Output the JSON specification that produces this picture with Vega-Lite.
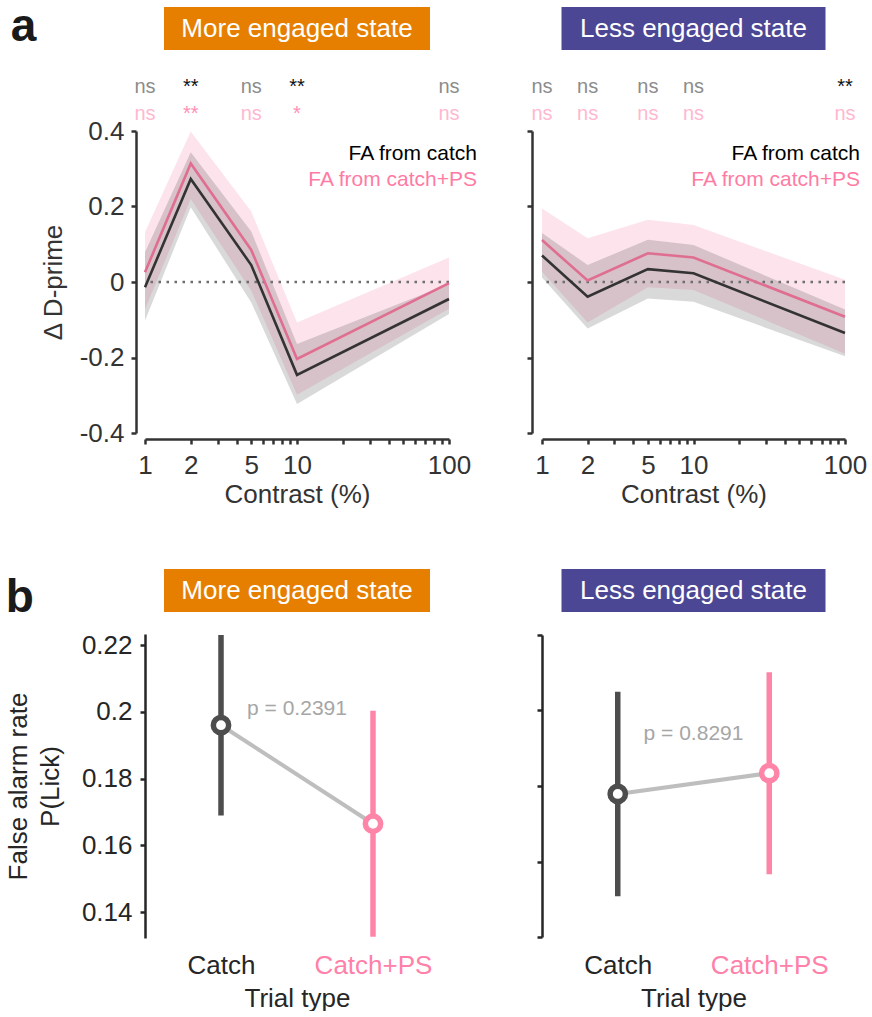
{
  "$schema": "https://vega.github.io/schema/vega-lite/v6.json",
  "background": "white",
  "padding": {"left": 5, "top": 4, "right": 5, "bottom": 0},
  "config": {
    "font": "Liberation Sans",
    "view": {"stroke": null},
    "axis": {
      "grid": false, "domainWidth": 2.5, "tickWidth": 2.5, "tickSize": 5,
      "labelFontSize": 26, "titleFontSize": 26, "titleFontWeight": "normal",
      "labelFont": "Liberation Sans", "titleFont": "Liberation Sans",
      "domainColor": "#333333", "tickColor": "#333333", "labelColor": "#333333", "titleColor": "#333333",
      "labelFlush": false, "labelOverlap": false, "domainCap": "butt"
    }
  },
  "datasets": {
    "dprime": [
      {"state": "More engaged", "fa": "catch", "contrast": 1, "mean": -0.014, "lo": -0.102, "hi": 0.079},
      {"state": "More engaged", "fa": "catch", "contrast": 2, "mean": 0.273, "lo": 0.198, "hi": 0.344},
      {"state": "More engaged", "fa": "catch", "contrast": 5, "mean": 0.045, "lo": -0.054, "hi": 0.134},
      {"state": "More engaged", "fa": "catch", "contrast": 10, "mean": -0.246, "lo": -0.323, "hi": -0.164},
      {"state": "More engaged", "fa": "catch", "contrast": 100, "mean": -0.045, "lo": -0.085, "hi": -0.005},
      {"state": "More engaged", "fa": "catch+PS", "contrast": 1, "mean": 0.026, "lo": -0.072, "hi": 0.132},
      {"state": "More engaged", "fa": "catch+PS", "contrast": 2, "mean": 0.314, "lo": 0.220, "hi": 0.399},
      {"state": "More engaged", "fa": "catch+PS", "contrast": 5, "mean": 0.085, "lo": -0.023, "hi": 0.187},
      {"state": "More engaged", "fa": "catch+PS", "contrast": 10, "mean": -0.204, "lo": -0.299, "hi": -0.107},
      {"state": "More engaged", "fa": "catch+PS", "contrast": 100, "mean": -0.003, "lo": -0.071, "hi": 0.065},
      {"state": "Less engaged", "fa": "catch", "contrast": 1, "mean": 0.070, "lo": 0.012, "hi": 0.130},
      {"state": "Less engaged", "fa": "catch", "contrast": 2, "mean": -0.039, "lo": -0.123, "hi": 0.045},
      {"state": "Less engaged", "fa": "catch", "contrast": 5, "mean": 0.034, "lo": -0.044, "hi": 0.112},
      {"state": "Less engaged", "fa": "catch", "contrast": 10, "mean": 0.023, "lo": -0.052, "hi": 0.098},
      {"state": "Less engaged", "fa": "catch", "contrast": 100, "mean": -0.135, "lo": -0.197, "hi": -0.073},
      {"state": "Less engaged", "fa": "catch+PS", "contrast": 1, "mean": 0.111, "lo": 0.027, "hi": 0.195},
      {"state": "Less engaged", "fa": "catch+PS", "contrast": 2, "mean": 0.004, "lo": -0.107, "hi": 0.116},
      {"state": "Less engaged", "fa": "catch+PS", "contrast": 5, "mean": 0.076, "lo": -0.014, "hi": 0.165},
      {"state": "Less engaged", "fa": "catch+PS", "contrast": 10, "mean": 0.065, "lo": -0.021, "hi": 0.151},
      {"state": "Less engaged", "fa": "catch+PS", "contrast": 100, "mean": -0.092, "lo": -0.190, "hi": 0.006}
    ],
    "sig": [
      {"state": "More engaged", "fa": "catch", "contrast": 1, "label": "ns"},
      {"state": "More engaged", "fa": "catch", "contrast": 2, "label": "**"},
      {"state": "More engaged", "fa": "catch", "contrast": 5, "label": "ns"},
      {"state": "More engaged", "fa": "catch", "contrast": 10, "label": "**"},
      {"state": "More engaged", "fa": "catch", "contrast": 100, "label": "ns"},
      {"state": "More engaged", "fa": "catch+PS", "contrast": 1, "label": "ns"},
      {"state": "More engaged", "fa": "catch+PS", "contrast": 2, "label": "**"},
      {"state": "More engaged", "fa": "catch+PS", "contrast": 5, "label": "ns"},
      {"state": "More engaged", "fa": "catch+PS", "contrast": 10, "label": "*"},
      {"state": "More engaged", "fa": "catch+PS", "contrast": 100, "label": "ns"},
      {"state": "Less engaged", "fa": "catch", "contrast": 1, "label": "ns"},
      {"state": "Less engaged", "fa": "catch", "contrast": 2, "label": "ns"},
      {"state": "Less engaged", "fa": "catch", "contrast": 5, "label": "ns"},
      {"state": "Less engaged", "fa": "catch", "contrast": 10, "label": "ns"},
      {"state": "Less engaged", "fa": "catch", "contrast": 100, "label": "**"},
      {"state": "Less engaged", "fa": "catch+PS", "contrast": 1, "label": "ns"},
      {"state": "Less engaged", "fa": "catch+PS", "contrast": 2, "label": "ns"},
      {"state": "Less engaged", "fa": "catch+PS", "contrast": 5, "label": "ns"},
      {"state": "Less engaged", "fa": "catch+PS", "contrast": 10, "label": "ns"},
      {"state": "Less engaged", "fa": "catch+PS", "contrast": 100, "label": "ns"}
    ],
    "fa": [
      {"state": "More engaged", "trial": "Catch", "pos": 1, "mean": 0.196, "lo": 0.169, "hi": 0.223},
      {"state": "More engaged", "trial": "Catch+PS", "pos": 2, "mean": 0.1665, "lo": 0.1327, "hi": 0.2003},
      {"state": "Less engaged", "trial": "Catch", "pos": 1, "mean": 0.1779, "lo": 0.1508, "hi": 0.205},
      {"state": "Less engaged", "trial": "Catch+PS", "pos": 2, "mean": 0.1834, "lo": 0.1566, "hi": 0.2101}
    ],
    "pvals": [
      {"state": "More engaged", "label": "p = 0.2391"},
      {"state": "Less engaged", "label": "p = 0.8291"}
    ]
  },
  "bounds": "flush",
  "spacing": 562,
  "vconcat": [
    {
      "bounds": "flush",
      "spacing": 397,
      "hconcat": [
        {
          "bounds": "flush", "center": true, "spacing": 6.5,
          "vconcat": [
            {
              "width": 266, "height": 43,
              "title": {"text": "a", "orient": "left", "angle": 0, "anchor": "middle", "frame": "group", "offset": 102, "fontSize": 46, "fontWeight": "bold", "baseline": "alphabetic", "align": "right", "dy": 12.5, "color": "#1a1a1a", "font": "Liberation Sans"},
              "view": {"fill": "#E67F00", "stroke": null},
              "data": {"values": [{"state": "More engaged state"}]},
              "mark": {"type": "text", "color": "white", "fontSize": 26, "baseline": "middle", "align": "center"},
              "encoding": {"text": {"field": "state"}}
            },
            {
              "width": 304, "height": 68,
              "data": {"name": "sig"},
              "transform": [{"filter": "datum.state == 'More engaged'"}],
              "mark": {"type": "text", "fontSize": 20, "baseline": "middle", "align": "center"},
              "encoding": {
                "x": {"field": "contrast", "type": "quantitative", "scale": {"type": "log", "domain": [1, 100], "nice": false}, "axis": null},
                "y": {"field": "fa", "type": "nominal", "scale": {"type": "point", "domain": ["catch", "catch+PS"], "padding": 0.783, "align": 0.735}, "axis": null},
                "text": {"field": "label"},
                "color": {"condition": [
                  {"test": "datum.fa == 'catch' && datum.label == 'ns'", "value": "#8C8C8C"},
                  {"test": "datum.fa == 'catch'", "value": "#111111"},
                  {"test": "datum.label == 'ns'", "value": "#FFB8D0"}
                ], "value": "#FF8FB6"}
              }
            },
            {
              "width": 304, "height": 302,
              "layer": [
                {
                  "data": {"name": "dprime"},
                  "transform": [{"filter": "datum.state == 'More engaged' && datum.fa == 'catch+PS'"}],
                  "mark": {"type": "area", "color": "#FDE3EC", "opacity": 1},
                  "encoding": {
                    "x": {"field": "contrast", "type": "quantitative", "scale": {"type": "log", "domain": [1, 100], "nice": false}, "title": "Contrast (%)",
                      "axis": {"values": [1, 2, 3, 4, 5, 6, 7, 8, 9, 10, 20, 30, 40, 50, 60, 70, 80, 90, 100], "labelExpr": "indexof([1, 2, 5, 10, 100], datum.value) >= 0 ? datum.value + '' : ''", "offset": 6, "labelPadding": 8, "titlePadding": 3}},
                    "y": {"field": "lo", "type": "quantitative", "scale": {"domain": [-0.4, 0.4], "nice": false, "zero": false}, "title": "Δ D-prime",
                      "axis": {"values": [-0.4, -0.2, 0, 0.2, 0.4], "offset": 9, "labelExpr": "'' + datum.value", "labelPadding": 7, "titlePadding": 13}},
                    "y2": {"field": "hi"}
                  }
                },
                {
                  "data": {"name": "dprime"},
                  "transform": [{"filter": "datum.state == 'More engaged' && datum.fa == 'catch'"}],
                  "mark": {"type": "area", "color": "#404040", "opacity": 0.2},
                  "encoding": {
                    "x": {"field": "contrast", "type": "quantitative", "title": "Contrast (%)"},
                    "y": {"field": "lo", "type": "quantitative", "title": "Δ D-prime"},
                    "y2": {"field": "hi"}
                  }
                },
                {
                  "data": {"values": [{}]},
                  "mark": {"type": "rule", "color": "#6E6E6E", "strokeDash": [2.5, 5.5], "strokeWidth": 2.5},
                  "encoding": {"y": {"datum": 0, "type": "quantitative"}}
                },
                {
                  "data": {"name": "dprime"},
                  "transform": [{"filter": "datum.state == 'More engaged' && datum.fa == 'catch'"}],
                  "mark": {"type": "line", "color": "#333333", "strokeWidth": 2.6},
                  "encoding": {
                    "x": {"field": "contrast", "type": "quantitative", "title": "Contrast (%)"},
                    "y": {"field": "mean", "type": "quantitative", "title": "Δ D-prime"}
                  }
                },
                {
                  "data": {"name": "dprime"},
                  "transform": [{"filter": "datum.state == 'More engaged' && datum.fa == 'catch+PS'"}],
                  "mark": {"type": "line", "color": "#DF6E91", "strokeWidth": 2.6},
                  "encoding": {
                    "x": {"field": "contrast", "type": "quantitative", "title": "Contrast (%)"},
                    "y": {"field": "mean", "type": "quantitative", "title": "Δ D-prime"}
                  }
                },
                {
                  "data": {"values": [{"label": "FA from catch"}]},
                  "mark": {"type": "text", "align": "right", "baseline": "alphabetic", "fontSize": 21, "color": "#000000", "dx": 28},
                  "encoding": {"x": {"datum": 100, "type": "quantitative"}, "y": {"datum": 0.322, "type": "quantitative"}, "text": {"field": "label"}}
                },
                {
                  "data": {"values": [{"label": "FA from catch+PS"}]},
                  "mark": {"type": "text", "align": "right", "baseline": "alphabetic", "fontSize": 21, "color": "#FF7BA4", "dx": 28},
                  "encoding": {"x": {"datum": 100, "type": "quantitative"}, "y": {"datum": 0.255, "type": "quantitative"}, "text": {"field": "label"}}
                }
              ]
            }
          ]
        },
        {
          "bounds": "flush", "center": true, "spacing": 6.5,
          "vconcat": [
            {
              "width": 264, "height": 43,
              "view": {"fill": "#4B4794", "stroke": null},
              "data": {"values": [{"state": "Less engaged state"}]},
              "mark": {"type": "text", "color": "white", "fontSize": 26, "baseline": "middle", "align": "center"},
              "encoding": {"text": {"field": "state"}}
            },
            {
              "width": 303, "height": 68,
              "data": {"name": "sig"},
              "transform": [{"filter": "datum.state == 'Less engaged'"}],
              "mark": {"type": "text", "fontSize": 20, "baseline": "middle", "align": "center"},
              "encoding": {
                "x": {"field": "contrast", "type": "quantitative", "scale": {"type": "log", "domain": [1, 100], "nice": false}, "axis": null},
                "y": {"field": "fa", "type": "nominal", "scale": {"type": "point", "domain": ["catch", "catch+PS"], "padding": 0.783, "align": 0.735}, "axis": null},
                "text": {"field": "label"},
                "color": {"condition": [
                  {"test": "datum.fa == 'catch' && datum.label == 'ns'", "value": "#8C8C8C"},
                  {"test": "datum.fa == 'catch'", "value": "#111111"},
                  {"test": "datum.label == 'ns'", "value": "#FFB8D0"}
                ], "value": "#FF8FB6"}
              }
            },
            {
              "width": 303, "height": 302,
              "layer": [
                {
                  "data": {"name": "dprime"},
                  "transform": [{"filter": "datum.state == 'Less engaged' && datum.fa == 'catch+PS'"}],
                  "mark": {"type": "area", "color": "#FDE3EC", "opacity": 1},
                  "encoding": {
                    "x": {"field": "contrast", "type": "quantitative", "scale": {"type": "log", "domain": [1, 100], "nice": false}, "title": "Contrast (%)",
                      "axis": {"values": [1, 2, 3, 4, 5, 6, 7, 8, 9, 10, 20, 30, 40, 50, 60, 70, 80, 90, 100], "labelExpr": "indexof([1, 2, 5, 10, 100], datum.value) >= 0 ? datum.value + '' : ''", "offset": 6, "labelPadding": 8, "titlePadding": 3}},
                    "y": {"field": "lo", "type": "quantitative", "scale": {"domain": [-0.4, 0.4], "nice": false, "zero": false}, "title": null,
                      "axis": {"values": [-0.4, -0.2, 0, 0.2, 0.4], "offset": 10, "labels": false}},
                    "y2": {"field": "hi"}
                  }
                },
                {
                  "data": {"name": "dprime"},
                  "transform": [{"filter": "datum.state == 'Less engaged' && datum.fa == 'catch'"}],
                  "mark": {"type": "area", "color": "#404040", "opacity": 0.2},
                  "encoding": {
                    "x": {"field": "contrast", "type": "quantitative", "title": "Contrast (%)"},
                    "y": {"field": "lo", "type": "quantitative", "title": null},
                    "y2": {"field": "hi"}
                  }
                },
                {
                  "data": {"values": [{}]},
                  "mark": {"type": "rule", "color": "#6E6E6E", "strokeDash": [2.5, 5.5], "strokeWidth": 2.5},
                  "encoding": {"y": {"datum": 0, "type": "quantitative"}}
                },
                {
                  "data": {"name": "dprime"},
                  "transform": [{"filter": "datum.state == 'Less engaged' && datum.fa == 'catch'"}],
                  "mark": {"type": "line", "color": "#333333", "strokeWidth": 2.6},
                  "encoding": {
                    "x": {"field": "contrast", "type": "quantitative", "title": "Contrast (%)"},
                    "y": {"field": "mean", "type": "quantitative", "title": null}
                  }
                },
                {
                  "data": {"name": "dprime"},
                  "transform": [{"filter": "datum.state == 'Less engaged' && datum.fa == 'catch+PS'"}],
                  "mark": {"type": "line", "color": "#DF6E91", "strokeWidth": 2.6},
                  "encoding": {
                    "x": {"field": "contrast", "type": "quantitative", "title": "Contrast (%)"},
                    "y": {"field": "mean", "type": "quantitative", "title": null}
                  }
                },
                {
                  "data": {"values": [{"label": "FA from catch"}]},
                  "mark": {"type": "text", "align": "right", "baseline": "alphabetic", "fontSize": 21, "color": "#000000", "dx": 15},
                  "encoding": {"x": {"datum": 100, "type": "quantitative"}, "y": {"datum": 0.322, "type": "quantitative"}, "text": {"field": "label"}}
                },
                {
                  "data": {"values": [{"label": "FA from catch+PS"}]},
                  "mark": {"type": "text", "align": "right", "baseline": "alphabetic", "fontSize": 21, "color": "#FF7BA4", "dx": 15},
                  "encoding": {"x": {"datum": 100, "type": "quantitative"}, "y": {"datum": 0.255, "type": "quantitative"}, "text": {"field": "label"}}
                }
              ]
            }
          ]
        }
      ]
    },
    {
      "bounds": "flush",
      "spacing": 397,
      "hconcat": [
        {
          "bounds": "flush", "center": true, "spacing": 22,
          "vconcat": [
            {
              "width": 266, "height": 43,
              "title": {"text": "b", "orient": "left", "angle": 0, "anchor": "middle", "frame": "group", "offset": 102, "fontSize": 46, "fontWeight": "bold", "baseline": "alphabetic", "align": "right", "dy": 21.5, "color": "#1a1a1a", "font": "Liberation Sans"},
              "view": {"fill": "#E67F00", "stroke": null},
              "data": {"values": [{"state": "More engaged state"}]},
              "mark": {"type": "text", "color": "white", "fontSize": 26, "baseline": "middle", "align": "center"},
              "encoding": {"text": {"field": "state"}}
            },
            {
              "width": 304, "height": 304,
              "layer": [
                {
                  "data": {"name": "fa"},
                  "transform": [{"filter": "datum.state == 'More engaged'"}],
                  "mark": {"type": "rule", "strokeWidth": 5.5, "clip": true},
                  "encoding": {
                    "x": {"field": "pos", "type": "quantitative", "scale": {"domain": [0.5, 2.5], "nice": false, "zero": false}, "title": "Trial type",
                      "axis": {"values": [1, 2], "labelExpr": "datum.value == 1 ? 'Catch' : 'Catch+PS'", "ticks": false, "domain": false, "labelPadding": 14, "titlePadding": 7,
                        "labelColor": {"condition": {"test": "datum.value == 1", "value": "#262626"}, "value": "#FF80A8"}, "titleColor": "#262626"}},
                    "y": {"field": "lo", "type": "quantitative", "scale": {"domain": [0.1323, 0.2233], "nice": false, "zero": false}, "title": ["False alarm rate", "P(Lick)"],
                      "axis": {"values": [0.14, 0.16, 0.18, 0.2, 0.22], "labelExpr": "'' + datum.value", "labelPadding": 8, "titlePadding": 18, "titleLineHeight": 32,
                        "domainColor": "#262626", "tickColor": "#262626", "labelColor": "#262626", "titleColor": "#262626"}},
                    "y2": {"field": "hi"},
                    "color": {"field": "trial", "type": "nominal", "scale": {"domain": ["Catch", "Catch+PS"], "range": ["#4D4D4D", "#FF85A8"]}, "legend": null}
                  }
                },
                {
                  "data": {"name": "fa"},
                  "transform": [{"filter": "datum.state == 'More engaged'"}],
                  "mark": {"type": "line", "color": "#BEBEBE", "strokeWidth": 4},
                  "encoding": {
                    "x": {"field": "pos", "type": "quantitative", "title": "Trial type"},
                    "y": {"field": "mean", "type": "quantitative", "title": ["False alarm rate", "P(Lick)"]}
                  }
                },
                {
                  "data": {"name": "fa"},
                  "transform": [{"filter": "datum.state == 'More engaged'"}],
                  "mark": {"type": "point", "shape": "circle", "filled": true, "fill": "white", "size": 234, "strokeWidth": 5.5, "opacity": 1},
                  "encoding": {
                    "x": {"field": "pos", "type": "quantitative", "title": "Trial type"},
                    "y": {"field": "mean", "type": "quantitative", "title": ["False alarm rate", "P(Lick)"]},
                    "stroke": {"field": "trial", "type": "nominal", "scale": {"domain": ["Catch", "Catch+PS"], "range": ["#4D4D4D", "#FF85A8"]}, "legend": null}
                  }
                },
                {
                  "data": {"name": "pvals"},
                  "transform": [{"filter": "datum.state == 'More engaged'"}],
                  "mark": {"type": "text", "fontSize": 21, "color": "#A6A6A6", "align": "center", "baseline": "alphabetic"},
                  "encoding": {"x": {"datum": 1.5, "type": "quantitative"}, "y": {"datum": 0.199, "type": "quantitative"}, "text": {"field": "label"}}
                }
              ]
            }
          ]
        },
        {
          "bounds": "flush", "center": true, "spacing": 23,
          "vconcat": [
            {
              "width": 264, "height": 43,
              "view": {"fill": "#4B4794", "stroke": null},
              "data": {"values": [{"state": "Less engaged state"}]},
              "mark": {"type": "text", "color": "white", "fontSize": 26, "baseline": "middle", "align": "center"},
              "encoding": {"text": {"field": "state"}}
            },
            {
              "width": 303, "height": 302,
              "layer": [
                {
                  "data": {"name": "fa"},
                  "transform": [{"filter": "datum.state == 'Less engaged'"}],
                  "mark": {"type": "rule", "strokeWidth": 5.5, "clip": true},
                  "encoding": {
                    "x": {"field": "pos", "type": "quantitative", "scale": {"domain": [0.5, 2.5], "nice": false, "zero": false}, "title": "Trial type",
                      "axis": {"values": [1, 2], "labelExpr": "datum.value == 1 ? 'Catch' : 'Catch+PS'", "ticks": false, "domain": false, "labelPadding": 15, "titlePadding": 7,
                        "labelColor": {"condition": {"test": "datum.value == 1", "value": "#262626"}, "value": "#FF80A8"}, "titleColor": "#262626"}},
                    "y": {"field": "lo", "type": "quantitative", "scale": {"domain": [0.14, 0.22], "nice": false, "zero": false}, "title": null,
                      "axis": {"values": [0.14, 0.16, 0.18, 0.2, 0.22], "labels": false, "domainColor": "#262626", "tickColor": "#262626"}},
                    "y2": {"field": "hi"},
                    "color": {"field": "trial", "type": "nominal", "scale": {"domain": ["Catch", "Catch+PS"], "range": ["#4D4D4D", "#FF85A8"]}, "legend": null}
                  }
                },
                {
                  "data": {"name": "fa"},
                  "transform": [{"filter": "datum.state == 'Less engaged'"}],
                  "mark": {"type": "line", "color": "#BEBEBE", "strokeWidth": 4},
                  "encoding": {
                    "x": {"field": "pos", "type": "quantitative", "title": "Trial type"},
                    "y": {"field": "mean", "type": "quantitative", "title": null}
                  }
                },
                {
                  "data": {"name": "fa"},
                  "transform": [{"filter": "datum.state == 'Less engaged'"}],
                  "mark": {"type": "point", "shape": "circle", "filled": true, "fill": "white", "size": 234, "strokeWidth": 5.5, "opacity": 1},
                  "encoding": {
                    "x": {"field": "pos", "type": "quantitative", "title": "Trial type"},
                    "y": {"field": "mean", "type": "quantitative", "title": null},
                    "stroke": {"field": "trial", "type": "nominal", "scale": {"domain": ["Catch", "Catch+PS"], "range": ["#4D4D4D", "#FF85A8"]}, "legend": null}
                  }
                },
                {
                  "data": {"name": "pvals"},
                  "transform": [{"filter": "datum.state == 'Less engaged'"}],
                  "mark": {"type": "text", "fontSize": 21, "color": "#A6A6A6", "align": "center", "baseline": "alphabetic"},
                  "encoding": {"x": {"datum": 1.5, "type": "quantitative"}, "y": {"datum": 0.1922, "type": "quantitative"}, "text": {"field": "label"}}
                }
              ]
            }
          ]
        }
      ]
    }
  ]
}
